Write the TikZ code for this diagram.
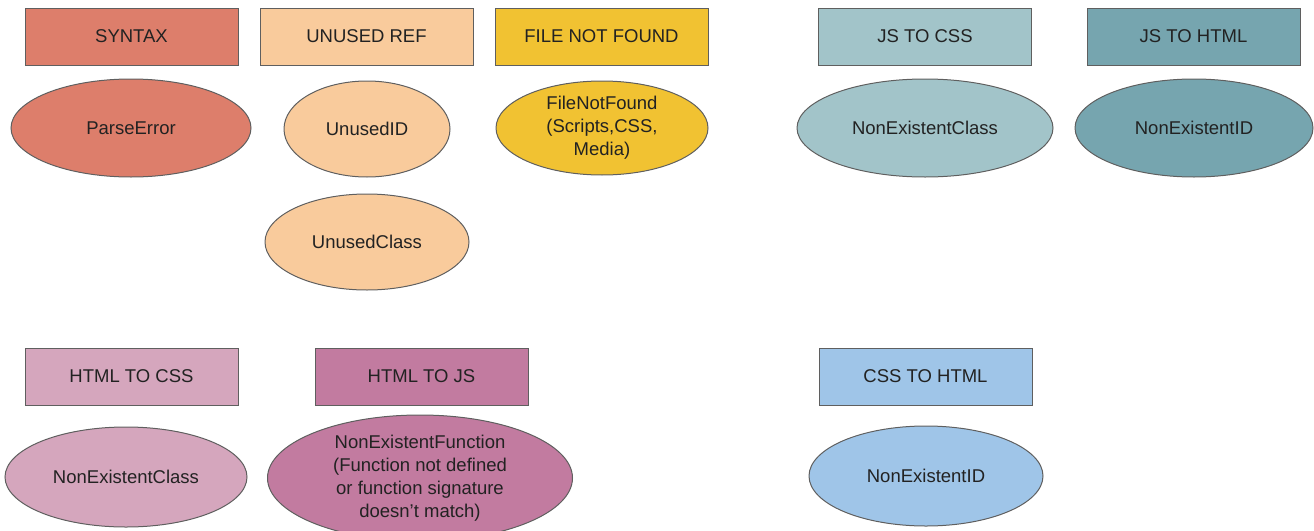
\documentclass[tikz,border=0pt]{standalone}
\usepackage{fontspec}
\setmainfont{Liberation Sans}
\usetikzlibrary{shapes.geometric}
\definecolor{cSyntax}{HTML}{DD7E6B}
\definecolor{cUnused}{HTML}{F9CB9C}
\definecolor{cFile}{HTML}{F1C232}
\definecolor{cJsCss}{HTML}{A2C4C9}
\definecolor{cJsHtml}{HTML}{76A5AF}
\definecolor{cHtmlCss}{HTML}{D5A6BD}
\definecolor{cHtmlJs}{HTML}{C27BA0}
\definecolor{cCssHtml}{HTML}{9FC5E8}
\definecolor{edge}{HTML}{5F5F5F}
\definecolor{ink}{HTML}{222222}
\tikzset{
  every node/.style={font=\fontsize{18.5}{23}\selectfont, text=ink, align=center},
  catbox/.style={draw=edge, line width=1pt, rectangle, minimum width=213pt, minimum height=57pt, inner sep=0pt},
  errell/.style={draw=edge, line width=1pt, ellipse, inner sep=0pt}
}
\begin{document}
\begin{tikzpicture}[x=1pt, y=-1pt]
  \useasboundingbox (0,0) rectangle (1314,530);
  \clip (0,0) rectangle (1314,530);

  % category headers, upper row
  \node[catbox, fill=cSyntax] (syntax) at (131.5,36.5) {SYNTAX};
  \node[catbox, fill=cUnused] (unusedref) at (366.5,36.5) {UNUSED REF};
  \node[catbox, fill=cFile] (filenf) at (601.5,36.5) {FILE NOT FOUND};
  \node[catbox, fill=cJsCss] (jscss) at (925,36.5) {JS TO CSS};
  \node[catbox, fill=cJsHtml] (jshtml) at (1193.5,36.5) {JS TO HTML};

  % error kinds, upper row
  \node[errell, fill=cSyntax, minimum width=240pt, minimum height=98pt] (parse) at (131,128) {ParseError};
  \node[errell, fill=cUnused, minimum width=166pt, minimum height=96pt] (unusedid) at (367,129) {UnusedID};
  \node[errell, fill=cFile, minimum width=212pt, minimum height=94pt] (filenotfound) at (602,128) {FileNotFound\\(Scripts,CSS,\\Media)};
  \node[errell, fill=cUnused, minimum width=204pt, minimum height=96pt] (unusedclass) at (367,242) {UnusedClass};
  \node[errell, fill=cJsCss, minimum width=256pt, minimum height=98pt] (jsclass) at (925,128) {NonExistentClass};
  \node[errell, fill=cJsHtml, minimum width=238pt, minimum height=98pt] (jsid) at (1194,128) {NonExistentID};

  % category headers, lower row
  \node[catbox, fill=cHtmlCss] (htmlcss) at (131.5,376.5) {HTML TO CSS};
  \node[catbox, fill=cHtmlJs] (htmljs) at (421.5,376.5) {HTML TO JS};
  \node[catbox, fill=cCssHtml] (csshtml) at (925.5,376.5) {CSS TO HTML};

  % error kinds, lower row
  \node[errell, fill=cHtmlCss, minimum width=242pt, minimum height=100pt] (htmlclass) at (126,477) {NonExistentClass};
  \node[errell, fill=cHtmlJs, minimum width=305pt, minimum height=126pt] (htmlfunc) at (420,478) {NonExistentFunction\\(Function not defined\\or function signature\\doesn't match)};
  \node[errell, fill=cCssHtml, minimum width=234pt, minimum height=100pt] (cssid) at (926,476) {NonExistentID};
\end{tikzpicture}
\end{document}
